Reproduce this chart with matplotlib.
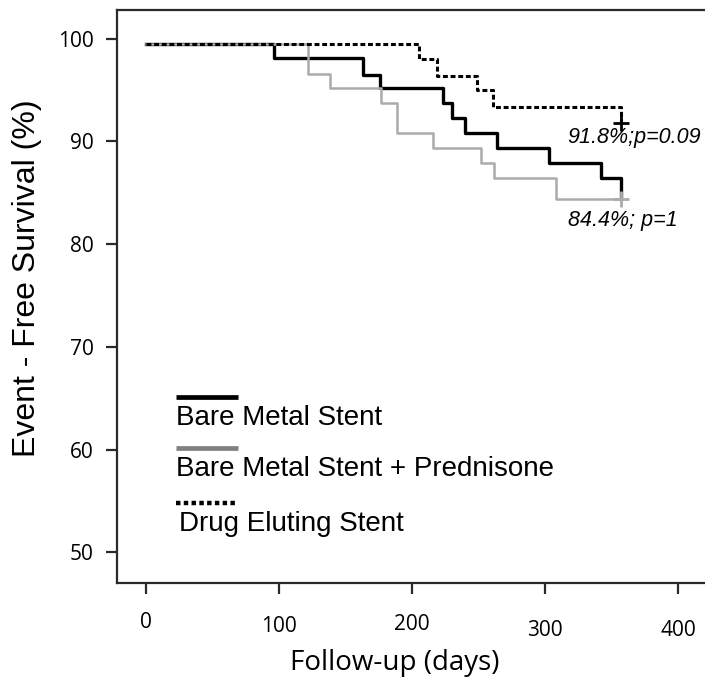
import matplotlib
matplotlib.use("Agg")
import matplotlib.pyplot as plt
import numpy as np

# Kaplan-Meier step data (day of event, survival % after it)
bms_days = [0, 96, 163, 176, 223, 230, 240, 264, 303, 342, 357]
bms_surv = [99.5, 98.1, 96.5, 95.2, 93.7, 92.3, 90.8, 89.4, 87.9, 86.4, 84.4]

bmsp_days = [0, 122, 138, 177, 189, 216, 252, 262, 308, 357]
bmsp_surv = [99.5, 96.6, 95.2, 93.7, 90.8, 89.4, 87.9, 86.4, 84.4, 84.4]

des_days = [0, 205, 219, 249, 261, 357]
des_surv = [99.5, 98.0, 96.4, 95.0, 93.4, 91.8]

group_names = ["Bare Metal Stent", "Bare Metal Stent + Prednisone", "Drug Eluting Stent"]
end_labels = ["91.8%;p=0.09", "84.4%; p=1"]

x_ticks = [0, 100, 200, 300, 400]
y_ticks = [50, 60, 70, 80, 90, 100]

fig = plt.figure(figsize=(7.05, 6.88), dpi=100)
ax = fig.add_axes([117 / 705, 1 - 583 / 688, 603 / 705, 573 / 688])

ax.step(bms_days, bms_surv, where="post", color="black", lw=2.4, zorder=2)
ax.step(bmsp_days, bmsp_surv, where="post", color="#ababab", lw=1.8, zorder=3)
ax.step(des_days, des_surv, where="post", color="black", lw=2.2,
        linestyle=(0, (1.6, 0.9)), zorder=4)

# censor marks at the end of follow-up
ax.plot(des_days[-1], des_surv[-1], marker="+", color="black", ms=11, mew=2, zorder=5)
ax.plot(bmsp_days[-1], bmsp_surv[-1], marker="+", color="#ababab", ms=11, mew=2, zorder=5)

afont = dict(family="Liberation Sans", style="italic", fontsize=15.5)
ax.annotate(end_labels[0], (des_days[-1], des_surv[-1]), xytext=(-54, -15),
            textcoords="offset pixels", va="center", **afont)
ax.annotate(end_labels[1], (bmsp_days[-1], bmsp_surv[-1]), xytext=(-53, -22),
            textcoords="offset pixels", va="center", **afont)

ax.set_xlim(-21.8, 431.6)
ax.set_ylim(47.0, 102.8)

for side in ["left", "bottom", "top"]:
    ax.spines[side].set_linewidth(1.6)
    ax.spines[side].set_color("#2a2a2a")
ax.spines["right"].set_visible(False)

ax.set_yticks(y_ticks)
ax.set_yticklabels([str(v) for v in y_ticks], family="Open Sans", fontsize=15)
ax.tick_params(axis="y", length=8, width=1.6, color="#2a2a2a", pad=9)

# x tick labels sit a little staggered
ax.set_xticks(x_ticks)
ax.set_xticklabels([])
ax.tick_params(axis="x", length=8, width=1.6, color="#2a2a2a")
stagger = [0, -4, -2, -8, -8]
for xv, dy in zip(x_ticks, stagger):
    ax.annotate(str(xv), (xv, 0), xycoords=ax.get_xaxis_transform(),
                xytext=(0, -40 + dy), textcoords="offset pixels",
                ha="center", va="center", family="Open Sans", fontsize=15)

fig.text(395 / 705, 1 - 663 / 688, "Follow-up (days)", ha="center", va="center",
         family="Open Sans", fontsize=20)
fig.text(27 / 705, 1 - 278 / 688, "Event - Free Survival (%)", rotation=90,
         ha="center", va="center", family="Liberation Sans", fontsize=23)

# hand-built legend in the lower left
legend_styles = [
    dict(color="black", lw=3.4),
    dict(color="#808080", lw=3.4),
    dict(color="black", lw=3.2, linestyle=(0, (1.0, 0.75))),
]
handle_y = [0.3246, 0.2356, 0.1396]
text_x = [0.098, 0.098, 0.103]
for name, style, hy, tx in zip(group_names, legend_styles, handle_y, text_x):
    ax.plot([0.098, 0.201], [hy, hy], transform=ax.transAxes, solid_capstyle="butt", **style)
    ax.text(tx, hy - 0.036, name, transform=ax.transAxes, va="center",
            family="Liberation Sans", fontsize=20)

fig.savefig("out.png", dpi=100)
